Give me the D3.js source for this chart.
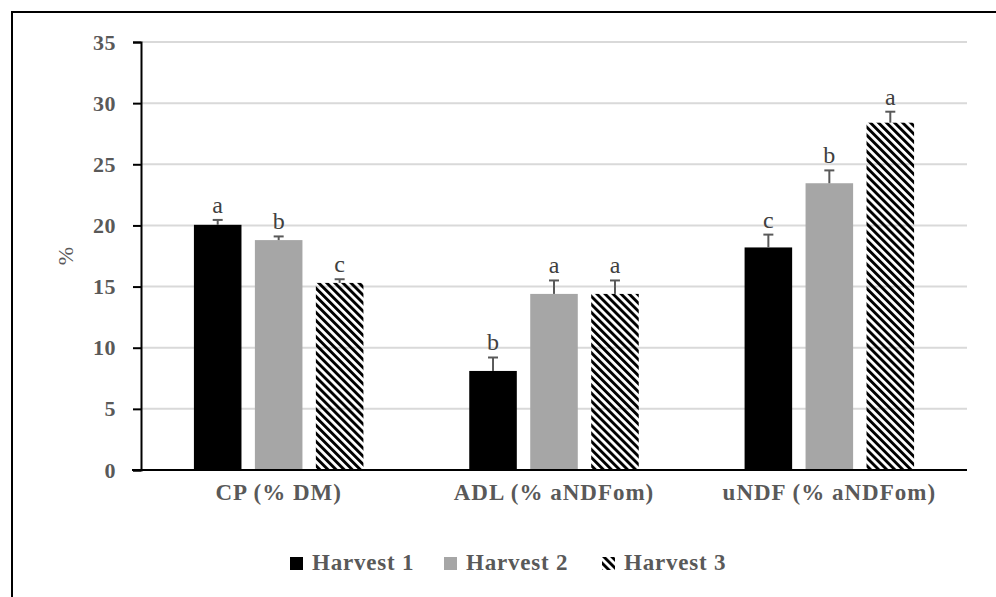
<!DOCTYPE html>
<html>
<head>
<meta charset="utf-8">
<script src="https://cdn.jsdelivr.net/npm/d3@7"></script>
<style>
  body { margin: 0; background: #fff; }
  text { font-family: "Liberation Serif", "Times New Roman", serif; }
</style>
</head>
<body>
<div id="chart"></div>
<script>
const categories = ['CP (% DM)', 'ADL (% aNDFom)', 'uNDF (% aNDFom)'];
const series = ['Harvest 1', 'Harvest 2', 'Harvest 3'];
const harvest1 = [20.05, 8.1, 18.2];
const harvest2 = [18.8, 14.4, 23.45];
const harvest3 = [15.3, 14.4, 28.4];
const err1 = [0.4, 1.1, 1.05];
const err2 = [0.3, 1.1, 1.05];
const err3 = [0.3, 1.1, 0.9];
const letters1 = ['a', 'b', 'c'];
const letters2 = ['b', 'a', 'b'];
const letters3 = ['c', 'a', 'a'];
const yTicks = [0, 5, 10, 15, 20, 25, 30, 35];

const W = 996, H = 597;
const margin = { top: 42, right: 29, bottom: 127, left: 141 };

const values = [harvest1, harvest2, harvest3];
const errs = [err1, err2, err3];
const letters = [letters1, letters2, letters3];
const data = [];
categories.forEach((c, ci) => {
    series.forEach((s, si) => {
        data.push({ cat: c, ser: s, si, v: values[si][ci], e: errs[si][ci], l: letters[si][ci] });
    });
});

const svg = d3.select('#chart').append('svg')
    .attr('width', W)
    .attr('height', H);

// hatch pattern for Harvest 3
const defs = svg.append('defs');
defs.append('pattern')
    .attr('id', 'hatch')
    .attr('patternUnits', 'userSpaceOnUse')
    .attr('width', 5.7)
    .attr('height', 10)
    .attr('patternTransform', 'rotate(-45)')
    .append('rect')
    .attr('width', 2.9)
    .attr('height', 10)
    .attr('fill', '#000');

const fills = ['#000000', '#a6a6a6', 'url(#hatch)'];

// frame (top and left edge only)
svg.append('path')
    .attr('d', `M12,${H} L12,12 L${W},12`)
    .attr('fill', 'none')
    .attr('stroke', '#000')
    .attr('stroke-width', 2);

const x0 = margin.left, x1 = W - margin.right;
const y = d3.scaleLinear().domain([0, 35]).range([H - margin.bottom, margin.top]);
const xCat = d3.scaleBand().domain(categories).range([x0, x1]).padding(0);
const groupW = 169.5;
const xSer = d3.scaleBand().domain(series)
    .range([(xCat.bandwidth() - groupW) / 2, (xCat.bandwidth() + groupW) / 2])
    .paddingInner(0.22).paddingOuter(0);

const g = svg.append('g');

// gridlines
g.selectAll('.grid')
    .data(yTicks.filter(t => t > 0))
    .enter().append('line')
    .attr('class', 'grid')
    .attr('x1', x0).attr('x2', x1)
    .attr('y1', d => y(d)).attr('y2', d => y(d))
    .attr('stroke', '#d9d9d9')
    .attr('stroke-width', 2);

// y axis
const yAxis = g.append('g')
    .attr('transform', `translate(${x0},0)`)
    .call(d3.axisLeft(y).tickValues(yTicks).tickSize(8).tickPadding(17));
yAxis.select('.domain').attr('stroke', '#000').attr('stroke-width', 2);
yAxis.selectAll('.tick line').attr('stroke', '#000').attr('stroke-width', 2);
yAxis.selectAll('.tick text')
    .attr('fill', '#595959')
    .attr('font-size', 22)
    .attr('font-weight', 'bold')
    .attr('letter-spacing', 0.5);

// bars
const bars = g.selectAll('.bar')
    .data(data)
    .enter().append('g')
    .attr('class', 'bar')
    .attr('transform', d => `translate(${xCat(d.cat) + xSer(d.ser)},0)`);

bars.append('rect')
    .attr('x', 0)
    .attr('y', d => y(d.v))
    .attr('width', xSer.bandwidth())
    .attr('height', d => y(0) - y(d.v))
    .attr('fill', d => fills[d.si]);

// error bars (upper only)
const bw = xSer.bandwidth();
bars.append('line')
    .attr('x1', bw / 2).attr('x2', bw / 2)
    .attr('y1', d => y(d.v)).attr('y2', d => y(d.v + d.e))
    .attr('stroke', '#595959').attr('stroke-width', 2);
bars.append('line')
    .attr('x1', bw / 2 - 5).attr('x2', bw / 2 + 5)
    .attr('y1', d => y(d.v + d.e)).attr('y2', d => y(d.v + d.e))
    .attr('stroke', '#595959').attr('stroke-width', 2);

// significance letters
bars.append('text')
    .attr('x', bw / 2)
    .attr('y', d => y(d.v + d.e) - 7)
    .attr('text-anchor', 'middle')
    .attr('font-size', 24)
    .attr('fill', '#404040')
    .text(d => d.l);

// x axis line
g.append('line')
    .attr('x1', x0 - 9).attr('x2', x1)
    .attr('y1', y(0)).attr('y2', y(0))
    .attr('stroke', '#000').attr('stroke-width', 2);

// category labels
g.selectAll('.cat')
    .data(categories)
    .enter().append('text')
    .attr('class', 'cat')
    .attr('x', d => xCat(d) + xCat.bandwidth() / 2)
    .attr('y', 500)
    .attr('text-anchor', 'middle')
    .attr('font-size', 23)
    .attr('font-weight', 'bold')
    .attr('letter-spacing', 1)
    .attr('fill', '#595959')
    .text(d => d);

// y title
svg.append('text')
    .attr('transform', `translate(73,${(y(0) + y(35)) / 2}) rotate(-90)`)
    .attr('text-anchor', 'middle')
    .attr('font-size', 22)
    .attr('fill', '#595959')
    .text('%');

// legend
const legendX = [290, 444, 602];
const legend = svg.selectAll('.legend')
    .data(series)
    .enter().append('g')
    .attr('class', 'legend')
    .attr('transform', (d, i) => `translate(${legendX[i]},557)`);
legend.append('rect')
    .attr('width', 13).attr('height', 13)
    .attr('fill', (d, i) => fills[i]);
legend.append('text')
    .attr('x', 22)
    .attr('y', 13)
    .attr('font-size', 23)
    .attr('font-weight', 'bold')
    .attr('letter-spacing', 0.8)
    .attr('fill', '#595959')
    .text(d => d);
</script>
</body>
</html>
